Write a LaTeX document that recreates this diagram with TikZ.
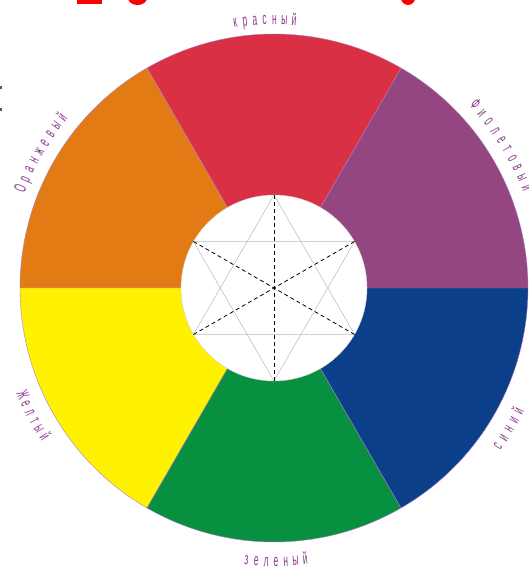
\documentclass[tikz,border=0pt]{standalone}
\usepackage{fontspec}
\newfontfamily\labfont[FakeStretch=0.5]{Liberation Sans}
\definecolor{cred}{HTML}{DA3043}
\definecolor{cviolet}{HTML}{93467F}
\definecolor{cblue}{HTML}{0B3F8A}
\definecolor{cgreen}{HTML}{06903F}
\definecolor{cyellow}{HTML}{FFF200}
\definecolor{corange}{HTML}{E37B14}
\definecolor{labcol}{HTML}{8A3A8F}
\definecolor{rimcol}{HTML}{B07AC8}
\tikzset{
  sector/.style={draw=rimcol, line width=0.4pt},
  lab/.style={inner sep=0pt, anchor=base, text=labcol, font=\labfont\fontsize{17}{17}\selectfont},
  hexline/.style={draw=gray!55, line width=0.5pt},
  hexdash/.style={draw=black, line width=0.8pt, dash pattern=on 4pt off 3pt},
}
% #1 mid angle, #2 baseline radius, #3 step, #4 letters, #5 count, #6 name
\newcommand\toparc[6]{%
  \foreach \ch [count=\i from 0] in {#4} {
    \pgfmathsetmacro\ang{#1+(#5-1)/2*#3-\i*#3}
    \node[lab, rotate=\ang-90] (#6-\i) at ([shift={(\ang:#2)}]c) {\ch};
  }}
\newcommand\botarc[6]{%
  \foreach \ch [count=\i from 0] in {#4} {
    \pgfmathsetmacro\ang{#1-(#5-1)/2*#3+\i*#3}
    \node[lab, rotate=\ang+90] (#6-\i) at ([shift={(\ang:#2)}]c) {\ch};
  }}
\begin{document}
\begin{tikzpicture}[x=1pt,y=1pt]
\useasboundingbox (0,0) rectangle (528,572);
\clip (0,0) rectangle (528,572);
\fill[white] (0,0) rectangle (528,572);
\coordinate (c) at (274,284);
% clipped title fragments
\fill[red] (77,568) rectangle (102,572);
\fill[red] (137.5,574) ellipse [x radius=9.5, y radius=7];
\fill[red] (408,574) ellipse [x radius=7, y radius=7];
\fill[gray!70!black] (0,483) rectangle (1.5,486);
\fill[gray!70!black] (0,461) rectangle (1.5,464);
% sectors
\filldraw[sector, fill=cviolet] (c) -- ++(0:254) arc[start angle=0, end angle=60, radius=254] -- cycle;
\filldraw[sector, fill=cred] (c) -- ++(60:254) arc[start angle=60, end angle=120, radius=254] -- cycle;
\filldraw[sector, fill=corange] (c) -- ++(120:254) arc[start angle=120, end angle=180, radius=254] -- cycle;
\filldraw[sector, fill=cyellow] (c) -- ++(180:254) arc[start angle=180, end angle=240, radius=254] -- cycle;
\filldraw[sector, fill=cgreen] (c) -- ++(240:254) arc[start angle=240, end angle=300, radius=254] -- cycle;
\filldraw[sector, fill=cblue] (c) -- ++(300:254) arc[start angle=300, end angle=360, radius=254] -- cycle;
% inner disc
\filldraw[fill=white, draw=gray!40, line width=0.4pt] (c) circle[radius=93];
\foreach \a in {30,90,150,210,270,330} {
  \coordinate (h\a) at ([shift={(\a:93)}]c);
}
\draw[hexline] (h90) -- (h210) -- (h330) -- cycle;
\draw[hexline] (h270) -- (h30) -- (h150) -- cycle;
\draw[hexdash] (h90) -- (h270);
\draw[hexdash] (h30) -- (h210);
\draw[hexdash] (h150) -- (h330);
% labels
\toparc{92}{263.5}{2.1}{к,р,а,с,н,ы,й}{7}{red}
\toparc{32}{267}{2.3}{Ф,и,о,л,е,т,о,в,ы,й}{10}{violet}
\toparc{149.8}{267}{2.18}{О,р,а,н,ж,е,в,ы,й}{9}{orange}
\botarc{208}{278.5}{2.0}{Ж,е,л,т,ы,й}{6}{yellow}
\botarc{329}{279}{2.15}{с,и,н,и,й}{5}{blue}
\botarc{270.4}{278.5}{2.05}{з,е,л,е,н,ы,й}{7}{green}
\end{tikzpicture}
\end{document}
